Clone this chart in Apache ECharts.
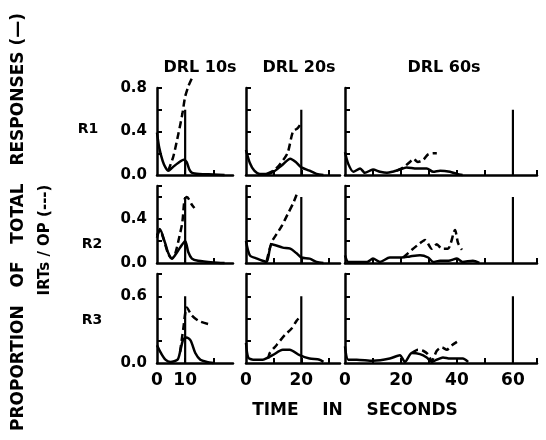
<!DOCTYPE html>
<html>
<head>
<meta charset="utf-8">
<script src="https://cdn.jsdelivr.net/npm/echarts@6/dist/echarts.min.js"></script>
<style>html,body{margin:0;padding:0;background:#fff}#c{width:546px;height:440px}</style>
</head>
<body>
<div id="c"></div>
<script>
// ---- data ----
const colTitles = ['DRL 10s', 'DRL 20s', 'DRL 60s'];
const rowLabels = ['R1', 'R2', 'R3'];
const drlValues = [10, 20, 60];
const criterionHeight = 0.6;
const xLabelValues = [[0, 10], [0, 20], [0, 20, 40, 60]];
const xTickValues = [[10, 20], [10, 20, 30], [10, 20, 30, 40, 50, 60, 68.6]];
const yLabelValues = [[0, 0.4, 0.8], [0, 0.4], [0, 0.6]];
const yTickValues = [[0.2, 0.4, 0.6, 0.8], [0.2, 0.4, 0.6, 0.7], [0.2, 0.4, 0.6, 0.8]];
const xMax = [27, 34, 68.6];
const yMax = [0.8, 0.7, 0.8];
const yTitle = 'PROPORTION   OF   TOTAL   RESPONSES (—)';
const yTitle2 = 'IRTs / OP (---)';
const xTitle = 'TIME    IN    SECONDS';

// proportion of total responses (solid)
const solid_R1_10 = [[0,0.39],[0.8,0.25],[2,0.13],[3,0.07],[4,0.04],[5.5,0.07],[7.5,0.11],[9.5,0.14],[10.5,0.12],[11.5,0.05],[12.5,0.02],[15,0.01],[20,0.005],[24,0]];
const solid_R1_20 = [[0,0.23],[1.4,0.11],[3,0.04],[5,0.01],[8,0.01],[10,0.03],[13,0.09],[16,0.15],[18,0.12],[20,0.07],[23,0.04],[25.5,0.01],[28,0]];
const solid_R1_60 = [[0,0.21],[1.2,0.1],[3,0.03],[5.4,0.06],[7.1,0.02],[10,0.05],[12.5,0.03],[15,0.02],[17,0.03],[19.6,0.05],[22,0.07],[25.6,0.06],[29.2,0.06],[31.5,0.03],[34,0.04],[37.5,0.03],[40,0.01],[42,0]];
const solid_R2_10 = [[0,0.23],[1,0.31],[2.9,0.18],[4,0.09],[5.3,0.04],[6.4,0.07],[8.2,0.14],[10,0.2],[11.1,0.1],[12.4,0.04],[14.6,0.02],[20,0.005],[24,0]];
const solid_R2_20 = [[0,0.2],[1.4,0.07],[4,0.04],[6,0.02],[7.5,0.01],[9.3,0.17],[13.3,0.14],[16,0.13],[18.2,0.09],[20,0.05],[23,0.04],[25.5,0.01],[28,0]];
const solid_R2_60 = [[0,0.07],[1.2,0.01],[4.2,0.01],[7.9,0.01],[10,0.04],[12.5,0.01],[16,0.05],[20.3,0.05],[23.2,0.06],[26.8,0.07],[29.7,0.05],[31.5,0.01],[34,0.02],[37,0.02],[40,0.04],[42,0.01],[45.7,0.02],[48,0]];
const solid_R3_10 = [[0,0.16],[1.4,0.09],[3,0.03],[4.8,0.01],[7.3,0.03],[8.2,0.1],[9.3,0.21],[10.6,0.23],[12,0.2],[13.6,0.09],[15.4,0.03],[17.7,0.01],[20,0]];
const solid_R3_20 = [[0,0.18],[0.8,0.05],[2.6,0.03],[6,0.03],[9.6,0.07],[13.3,0.12],[15.8,0.12],[19.4,0.07],[23,0.04],[26.6,0.03],[28,0.01]];
const solid_R3_60 = [[0,0.15],[1.2,0.03],[4.2,0.03],[10,0.02],[16,0.04],[19.6,0.07],[21.4,0.01],[23.9,0.09],[26.8,0.08],[29.2,0.05],[31,0.01],[32.8,0.03],[35,0.05],[37.5,0.04],[40,0.04],[42.1,0.04],[44,0.01]];

// IRTs / OP (dashed)
const dashed_R1_10 = [[4,0.04],[5.8,0.17],[7.6,0.38],[9,0.56],[10,0.72],[11.2,0.82],[12.4,0.89]];
const dashed_R1_20 = [[7.5,0.01],[10,0.04],[12,0.09],[15,0.2],[17,0.4],[18.7,0.43],[20,0.48]];
const dashed_R1_60 = [[18.5,0.04],[20.8,0.07],[23.2,0.12],[24.4,0.15],[26,0.12],[28,0.14],[29.7,0.19],[31.5,0.2],[32.8,0.2]];
const dashed_R2_10 = [[0,0.25],[1,0.3],[2.9,0.17],[4,0.08],[5.3,0.04],[6.4,0.08],[7.6,0.2],[9,0.37],[9.8,0.58],[10.6,0.6],[12.4,0.53],[13.3,0.5]];
const dashed_R2_20 = [[7.5,0.02],[9.3,0.19],[11,0.26],[13,0.34],[15,0.44],[17,0.54],[18.3,0.62]];
const dashed_R2_60 = [[20.8,0.05],[23.9,0.12],[26.8,0.18],[28.6,0.21],[31,0.13],[32.8,0.17],[34.6,0.13],[36.8,0.13],[39.3,0.3],[40.4,0.18],[41.8,0.12]];
const dashed_R3_10 = [[8.2,0.1],[9.3,0.3],[10.6,0.5],[12.3,0.43],[14.7,0.38],[18.3,0.35]];
const dashed_R3_20 = [[8,0.04],[8.6,0.09],[11,0.16],[14,0.25],[16.5,0.31],[18.3,0.38],[20,0.43]];
const dashed_R3_60 = [[23.9,0.09],[26.1,0.12],[27.9,0.11],[29.6,0.08],[31,0.02],[32.8,0.11],[34.6,0.14],[36.4,0.12],[38.2,0.16],[40,0.19]];

const solidData = [[solid_R1_10, solid_R1_20, solid_R1_60],[solid_R2_10, solid_R2_20, solid_R2_60],[solid_R3_10, solid_R3_20, solid_R3_60]];
const dashedData = [[dashed_R1_10, dashed_R1_20, dashed_R1_60],[dashed_R2_10, dashed_R2_20, dashed_R2_60],[dashed_R3_10, dashed_R3_20, dashed_R3_60]];

// ---- layout ----
const FONT = 'DejaVu Sans';
const colLeft = [157, 246, 345], colWidth = [76, 94, 192];
const rowTop = [88, 186, 274], rowHeight = [87, 77, 89];

const grids = [], xAxes = [], yAxes = [], series = [];
for (let r = 0; r < 3; r++) {
  for (let c = 0; c < 3; c++) {
    const i = r * 3 + c;
    grids.push({ left: colLeft[c], top: rowTop[r], width: colWidth[c], height: rowHeight[r], outerBoundsMode: 'none' });
    xAxes.push({
      type: 'value', gridIndex: i, min: 0, max: xMax[c],
      axisLine: { show: true, onZero: false, lineStyle: { color: '#000', width: 2.5 } },
      axisTick: { show: true, inside: true, length: 5, lineStyle: { color: '#000', width: 2 }, customValues: xTickValues[c] },
      axisLabel: { show: r === 2, customValues: xLabelValues[c], color: '#000', fontFamily: FONT, fontWeight: 'bold', fontSize: 17, margin: 9 },
      splitLine: { show: false }
    });
    yAxes.push({
      type: 'value', gridIndex: i, min: 0, max: yMax[r],
      axisLine: { show: true, onZero: false, lineStyle: { color: '#000', width: 2.5 } },
      axisTick: { show: true, inside: true, length: 5, lineStyle: { color: '#000', width: 2 }, customValues: yTickValues[r] },
      axisLabel: { show: c === 0, customValues: yLabelValues[r], formatter: v => v.toFixed(1), color: '#000', fontFamily: FONT, fontWeight: 'bold', fontSize: 15, margin: 10 },
      splitLine: { show: false }
    });
    series.push({
      type: 'line', xAxisIndex: i, yAxisIndex: i, data: solidData[r][c],
      showSymbol: false, smooth: 0.25, clip: false,
      lineStyle: { color: '#000', width: 2.5 }
    });
    series.push({
      type: 'line', xAxisIndex: i, yAxisIndex: i, data: dashedData[r][c],
      showSymbol: false, smooth: 0.25, clip: false,
      lineStyle: { color: '#000', width: 2.5, type: [7, 4] }
    });
    series.push({
      type: 'line', xAxisIndex: i, yAxisIndex: i,
      data: [[drlValues[c], 0], [drlValues[c], criterionHeight]],
      showSymbol: false, clip: false,
      lineStyle: { color: '#000', width: 2.2 }
    });
  }
}

const graphics = [];
const titleX = [200, 299, 444];
colTitles.forEach((t, c) => graphics.push({ type: 'text', x: titleX[c], y: 68, style: { text: t, font: 'bold 16px "DejaVu Sans"', fill: '#000', align: 'center', verticalAlign: 'middle' } }));
const rowLabelX = [88, 92, 92], rowLabelY = [129, 244, 320];
rowLabels.forEach((t, r) => graphics.push({ type: 'text', x: rowLabelX[r], y: rowLabelY[r], style: { text: t, font: 'bold 14px "DejaVu Sans"', fill: '#000', align: 'center', verticalAlign: 'middle' } }));
graphics.push({ type: 'text', x: 355, y: 411, style: { text: xTitle, font: 'bold 17px "DejaVu Sans"', fill: '#000', align: 'center', verticalAlign: 'middle' } });
graphics.push({ type: 'text', x: 19, y: 222, rotation: Math.PI / 2, style: { text: yTitle, font: 'bold 17px "DejaVu Sans"', fill: '#000', align: 'center', verticalAlign: 'middle' } });
graphics.push({ type: 'text', x: 45, y: 240, rotation: Math.PI / 2, style: { text: yTitle2, font: 'bold 15px "DejaVu Sans"', fill: '#000', align: 'center', verticalAlign: 'middle' } });

const chart = echarts.init(document.getElementById('c'), null, { renderer: 'canvas' });
chart.setOption({
  backgroundColor: '#fff',
  animation: false,
  grid: grids,
  xAxis: xAxes,
  yAxis: yAxes,
  series: series,
  graphic: graphics
});
</script>
</body>
</html>
